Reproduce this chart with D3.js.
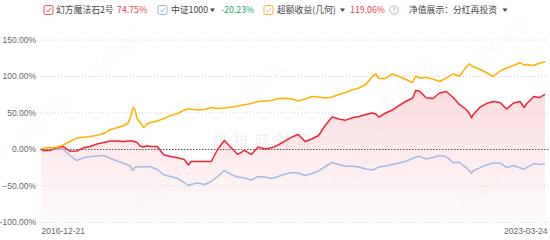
<!DOCTYPE html>
<html>
<head>
<meta charset="utf-8">
<script src="https://cdn.jsdelivr.net/npm/d3@7"></script>
<style>
body { margin: 0; background: #fff; }
svg { font-family: "Noto Sans CJK SC", "Noto Sans", sans-serif; }
.axis text { fill: #666; font-size: 8.5px; }
.legend text { font-size: 8.8px; }
</style>
</head>
<body>
<svg width="550" height="240"></svg>
<script>
var dates = ["2016-12-21","2017-01-01","2017-02-01","2017-03-01","2017-04-01","2017-05-01","2017-06-01","2017-07-01","2017-08-01","2017-09-01","2017-10-01","2017-11-01","2017-12-01",
"2018-01-01","2018-01-20","2018-02-01","2018-02-08","2018-02-12","2018-02-20","2018-03-01","2018-03-15","2018-04-01","2018-04-15","2018-05-01","2018-06-01","2018-07-01","2018-08-01","2018-09-01","2018-10-01","2018-10-20","2018-11-01","2018-12-01",
"2019-01-01","2019-02-01","2019-03-01","2019-04-01","2019-05-01","2019-06-01","2019-07-01","2019-08-01","2019-09-01","2019-10-01","2019-11-01","2019-12-01",
"2020-01-01","2020-02-01","2020-03-01","2020-04-01","2020-05-01","2020-06-01","2020-07-01","2020-08-01","2020-09-01","2020-10-01","2020-11-01","2020-12-01",
"2021-01-01","2021-02-01","2021-02-15","2021-03-01","2021-04-01","2021-05-01","2021-06-01","2021-07-01","2021-08-01","2021-08-15","2021-09-01","2021-10-01","2021-11-01","2021-12-01",
"2022-01-01","2022-02-01","2022-03-01","2022-04-01","2022-04-15","2022-04-25","2022-05-01","2022-06-01","2022-07-01","2022-08-01","2022-09-01","2022-10-01","2022-11-01","2022-12-01","2022-12-20",
"2023-01-01","2023-02-01","2023-03-01","2023-03-24"];

// 幻方魔法石2号 (%)
var fund = [0,-2,-1.6,1.6,3.4,-3,-2.7,1.6,3.4,6.9,8.9,11,11,
10.3,11,11,11,10.5,10,8.9,4,2.7,4.5,3.4,3.4,-8.2,-10.3,-12.1,-14.4,-22,-17.1,-17.1,
-17.1,-17.1,-0.7,11.6,2,-7.5,-2,-7.5,2.7,0,1.6,5.5,
11,16.4,19.9,10.3,13.7,18.5,32.2,43.8,41.1,39.5,42.7,44.5,
47.3,49.3,48,43.8,49.3,53.4,59.6,65.1,69.9,80.1,79.5,70.1,69.2,76.7,
78.8,70.6,61,54.1,49,42.7,46.6,56.9,62.3,65.1,63.7,54.8,63,65.1,56.9,
62.3,71.9,70.6,74.75];

// 中证1000 (%)
var index1000 = [0,-2.7,-2,0.3,0,-8.9,-15.8,-12.1,-10.3,-9.6,-8.9,-13,-16.4,
-19.9,-22,-24,-29,-29,-25.3,-24,-24.5,-24.4,-24,-24.4,-28.1,-35.6,-37.7,-40.4,-45.9,-50,-48.6,-46.6,
-48.6,-44.5,-37.7,-29.5,-34.9,-38.4,-39.7,-42.5,-37.7,-38.4,-40.4,-37.7,
-34.2,-32.2,-32.9,-36.3,-33.6,-30.1,-24,-18.5,-21.2,-23.6,-23.6,-24.7,
-27.4,-28.8,-27,-24.7,-23.3,-21.2,-19.2,-16.7,-13,-11,-9.9,-13.7,-11.6,-8.9,
-10.7,-18.5,-18.1,-26,-29.5,-33.6,-30.1,-25.8,-21.9,-19.2,-19.2,-25.3,-22.6,-26,-28.1,
-25.3,-19.9,-21.2,-20.23];

// 超额收益(几何) (%)
var excess = [0,1,2,2,5.5,10.3,15,16,17,18.8,21.2,26.7,29,
32.2,35.6,44.5,54,56.8,53.4,41.8,36.3,29.5,34.2,36.3,38.4,41.8,45.9,48.6,53.4,55,54.4,53.4,
54.1,56.9,55.5,56.2,57.1,58.9,60.7,62.3,65.1,65.8,66.4,69.2,
69.5,68.5,65.8,68.5,71.9,71.2,69.9,71.2,74.7,77.4,80.8,83.6,
88.4,100,102.8,96.6,96.6,102.8,99.3,95.2,91.1,100,97.3,98,95.9,92.5,
97.5,102.8,99.7,112.3,116.7,114,113,109.2,104.8,99.3,106.6,111,114.4,118.1,115,
115.8,114.4,117.8,119.06];

var yTicks = [-100, -50, 0, 50, 100, 150];
var seriesNames = ["幻方魔法石2号", "中证1000", "超额收益(几何)"];
var lastValues = ["74.75%", "-20.23%", "119.06%"];
var displayLabel = "净值展示：分红再投资";
var watermark = "市值风云";

var parse = d3.timeParse("%Y-%m-%d");
var svg = d3.select("svg");
var plotLeft = 40, plotRight = 549, plotTop = 39.5, plotBottom = 222;

var x = d3.scaleTime().domain([parse(dates[0]), parse(dates[dates.length - 1])]).range([41, 545]);
var y = d3.scaleLinear().domain([-100, 150]).range([plotBottom, plotTop]);

var defs = svg.append("defs");
var grad = defs.append("linearGradient").attr("id", "fill").attr("x1", 0).attr("y1", 0).attr("x2", 0).attr("y2", 1);
grad.append("stop").attr("offset", "0%").attr("stop-color", "#e8303e").attr("stop-opacity", 0.17);
grad.append("stop").attr("offset", "100%").attr("stop-color", "#e8303e").attr("stop-opacity", 0.02);

// watermarks
var wm = svg.append("g").attr("fill", "#000").attr("fill-opacity", 0.035).style("font-size", "17px");
[[120, 58], [260, 92], [410, 88], [505, 48], [45, 125], [165, 195], [365, 170], [490, 190]].forEach(function(p) {
  wm.append("text").attr("transform", "translate(" + p[0] + "," + p[1] + ") rotate(-40)")
    .attr("text-anchor", "middle").text(watermark);
});

var area = d3.area().x(function(d) { return x(d.date); }).y0(plotBottom).y1(function(d) { return y(d.fund); });

var data = dates.map(function(d, i) {
  return {date: parse(d), fund: fund[i], idx: index1000[i], excess: excess[i]};
});
svg.append("path").datum(data).attr("d", area).attr("fill", "url(#fill)");

svg.append("text").attr("x", 265).attr("y", 146).attr("text-anchor", "middle")
  .attr("fill", "#000").attr("fill-opacity", 0.06).style("font-size", "15px").style("font-weight", "bold")
  .attr("letter-spacing", "6px").text("排排网财富");

// y axis + grid
var yAxis = svg.append("g").attr("class", "axis").attr("transform", "translate(" + plotLeft + ",0)")
  .call(d3.axisLeft(y).tickValues(yTicks).tickSize(-(plotRight - plotLeft)).tickPadding(4)
    .tickFormat(function(d) { return d3.format(".2f")(d) + "%"; }));
yAxis.select(".domain").remove();
yAxis.selectAll("line").attr("stroke", function(d) { return d === 0 ? "#555" : "#d6d6d6"; })
  .attr("stroke-dasharray", function(d) { return d === 0 ? "1.5,1.5" : "1,2"; });

// x axis
var xAxis = svg.append("g").attr("class", "axis").attr("transform", "translate(0," + plotBottom + ")")
  .call(d3.axisBottom(x).tickValues([parse(dates[0]), parse(dates[dates.length - 1])]).tickSize(0).tickPadding(6)
    .tickFormat(d3.timeFormat("%Y-%m-%d")));
xAxis.select(".domain").remove();
xAxis.selectAll("text").attr("text-anchor", function(d, i) { return i === 0 ? "start" : "end"; })
  .attr("dx", function(d, i) { return i === 0 ? 0 : 2; });

function line(key) {
  return d3.line().x(function(d) { return x(d.date); }).y(function(d) { return y(d[key]); });
}
var colors = {fund: "#ee2438", idx: "#a7b9e6", excess: "#ffb000"};
["idx", "fund", "excess"].forEach(function(k) {
  svg.append("path").datum(data).attr("d", line(k)).attr("fill", "none")
    .attr("stroke", colors[k]).attr("stroke-width", 1.5).attr("stroke-linejoin", "round");
});

// legend
var lg = svg.append("g").attr("class", "legend");
function checkbox(cx, color) {
  lg.append("rect").attr("x", cx).attr("y", 5.5).attr("width", 9).attr("height", 9).attr("rx", 1.5)
    .attr("fill", "#fff").attr("stroke", color).attr("stroke-width", 1);
  lg.append("path").attr("d", "M" + (cx + 2.3) + ",10 L" + (cx + 4) + ",11.8 L" + (cx + 6.8) + ",8.2")
    .attr("fill", "none").attr("stroke", color).attr("stroke-width", 1);
}
function txt(tx, s, color) {
  lg.append("text").attr("x", tx).attr("y", 13.3).attr("fill", color).text(s);
}
function caret(cx) {
  lg.append("path").attr("d", "M" + (cx - 2.5) + ",8.5 L" + (cx + 2.5) + ",8.5 L" + cx + ",12 Z").attr("fill", "#444");
}
checkbox(44, "#ee4d5a");
txt(56, seriesNames[0], "#444");
txt(117, lastValues[0], "#ee3b4a");
checkbox(158, "#8fb3ec");
txt(171, seriesNames[1], "#444");
caret(212.5);
txt(221, lastValues[1], "#22a760");
checkbox(264, "#f7b23b");
txt(277, seriesNames[2], "#444");
caret(342.5);
txt(350, lastValues[2], "#ee3b4a");
lg.append("circle").attr("cx", 394).attr("cy", 10).attr("r", 4.3).attr("fill", "none").attr("stroke", "#aaa").attr("stroke-width", 0.8);
lg.append("text").attr("x", 394).attr("y", 12.5).attr("text-anchor", "middle").attr("fill", "#aaa").style("font-size", "7px").text("?");
txt(409, displayLabel, "#444");
caret(505);
</script>
</body>
</html>
